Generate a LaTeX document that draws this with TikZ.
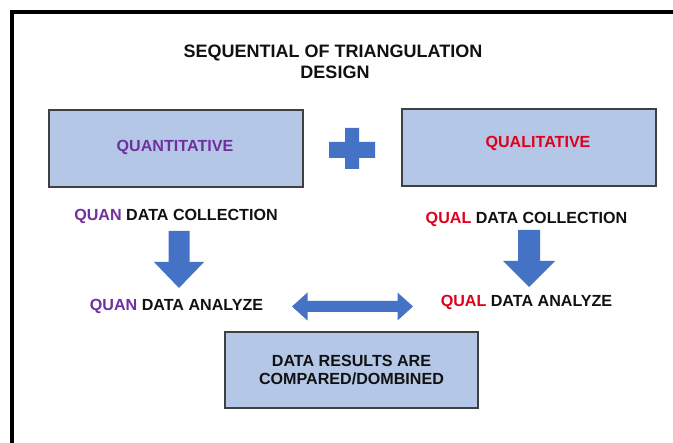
\documentclass[tikz,border=0pt]{standalone}
\usepackage{fontspec}
\setmainfont{Liberation Sans}
\usetikzlibrary{calc}

\definecolor{boxfill}{HTML}{B4C7E7}
\definecolor{boxline}{HTML}{404040}
\definecolor{arrowblue}{HTML}{4472C4}
\definecolor{quanpurple}{HTML}{7030A0}
\definecolor{qualred}{HTML}{E0001B}
\definecolor{textdark}{HTML}{111111}

\tikzset{
  panel/.style={draw=boxline, line width=1.2pt, fill=boxfill, inner sep=0pt},
  lbl/.style={inner sep=0pt, font=\bfseries\fontsize{16.1}{18}\selectfont, text=textdark},
  ttl/.style={inner sep=0pt, font=\bfseries\fontsize{18}{21}\selectfont, text=textdark, align=center},
  blockarrow/.style={fill=arrowblue},
}

\begin{document}
\begin{tikzpicture}[x=1pt, y=-1pt]
  \useasboundingbox (0,0) rectangle (673,443);
  \fill[white] (0,0) rectangle (673,443);

  % outer frame (left and top edges)
  \draw[line width=3.5pt] (12,445) -- (12,12) -- (675,12);

  % title
  \node[ttl] (title1) at (333,52.5) {SEQUENTIAL OF TRIANGULATION};
  \node[ttl] (title2) at (335,72) {DESIGN};

  % top boxes
  \node[panel, minimum width=254pt, minimum height=77pt] (quanbox) at (176,148.5) {};
  \node[lbl, text=quanpurple] (quantxt) at (175,147) {QUANTITATIVE};
  \node[panel, minimum width=254pt, minimum height=77pt] (qualbox) at (529,147.5) {};
  \node[lbl, text=qualred] (qualtxt) at (538,143) {QUALITATIVE};

  % plus sign
  \coordinate (plus) at (352,149);
  \fill[blockarrow]
    ($(plus)+(-7,-21)$) -- ($(plus)+(7,-21)$) -- ($(plus)+(7,-7)$) --
    ($(plus)+(23,-7)$) -- ($(plus)+(23,9)$) -- ($(plus)+(7,9)$) --
    ($(plus)+(7,20)$) -- ($(plus)+(-7,20)$) -- ($(plus)+(-7,9)$) --
    ($(plus)+(-23,9)$) -- ($(plus)+(-23,-7)$) -- ($(plus)+(-7,-7)$) -- cycle;

  % step labels
  \node[lbl] (quancoll) at (176,216) {\textcolor{quanpurple}{QUAN} DATA COLLECTION};
  \node[lbl] (quanan) at (176.5,306) {\textcolor{quanpurple}{QUAN} DATA ANALYZE};
  \node[lbl] (qualcoll) at (526.5,219) {\textcolor{qualred}{QUAL} DATA COLLECTION};
  \node[lbl] (qualan) at (526.5,302) {\textcolor{qualred}{QUAL} DATA ANALYZE};

  % result box
  \node[panel, minimum width=253pt, minimum height=76pt, lbl, align=center,
        font=\bfseries\fontsize{16.1}{18}\selectfont] (result) at (351.5,370)
        {DATA RESULTS ARE\\COMPARED/DOMBINED};

  % down arrow, quantitative side
  \coordinate (lt) at (179,231);
  \coordinate (lp) at (179,288);
  \fill[blockarrow]
    ($(lt)+(-10.5,0)$) -- ($(lt)+(10.5,0)$) -- ($(lp)+(10.5,-26)$) --
    ($(lp)+(25,-26)$) -- (lp) -- ($(lp)+(-25,-26)$) -- ($(lp)+(-10.5,-26)$) -- cycle;

  % down arrow, qualitative side
  \coordinate (rt) at (529,230);
  \coordinate (rp) at (529,287);
  \fill[blockarrow]
    ($(rt)+(-11,0)$) -- ($(rt)+(11,0)$) -- ($(rp)+(11,-26)$) --
    ($(rp)+(26,-26)$) -- (rp) -- ($(rp)+(-26,-26)$) -- ($(rp)+(-11,-26)$) -- cycle;

  % two-way arrow between the analyses
  \coordinate (dl) at (292,306.5);
  \coordinate (dr) at (413,306.5);
  \fill[blockarrow]
    (dl) -- ($(dl)+(15.5,-14)$) -- ($(dl)+(15.5,-5.5)$) --
    ($(dr)+(-15.5,-5.5)$) -- ($(dr)+(-15.5,-14)$) -- (dr) --
    ($(dr)+(-15.5,14)$) -- ($(dr)+(-15.5,5.5)$) --
    ($(dl)+(15.5,5.5)$) -- ($(dl)+(15.5,14)$) -- cycle;
\end{tikzpicture}
\end{document}
